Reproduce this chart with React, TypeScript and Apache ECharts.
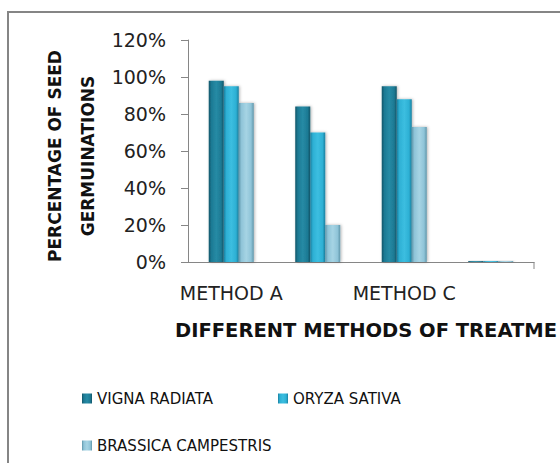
import React, { useEffect, useRef } from "react";
import * as echarts from "echarts";

const categories = ["METHOD A", "METHOD B", "METHOD C", "METHOD D"];
const seriesNames = ["VIGNA RADIATA", "ORYZA SATIVA", "BRASSICA CAMPESTRIS"];
const vignaRadiata = [98, 84, 95, 0.5];
const oryzaSativa = [95, 70, 88, 0.5];
const brassicaCampestris = [86, 20, 73, 0.5];
const yMin = 0;
const yMax = 120;
const yStep = 20;
const yTitle = "PERCENTAGE OF SEED\nGERMUINATIONS";
const xTitle = "DIFFERENT METHODS OF TREATME";

const W = 560;
const H = 463;
const GRID = { left: 188, top: 40, right: 26, bottom: 201 };
const FONT = "DejaVu Sans";

function grad(edge: string, mid: string, center: string) {
  return new echarts.graphic.LinearGradient(0, 0, 1, 0, [
    { offset: 0, color: edge },
    { offset: 0.18, color: mid },
    { offset: 0.5, color: center },
    { offset: 0.82, color: mid },
    { offset: 1, color: edge },
  ]);
}

export default function App() {
  const ref = useRef<HTMLDivElement>(null);
  useEffect(() => {
    if (!ref.current) return;
    const chart = echarts.init(ref.current, undefined, { renderer: "svg", width: W, height: H });
    const colors = [
      grad("#125568", "#1d7a94", "#268ba5"),
      grad("#1a7f9f", "#2db0d4", "#3cbee0"),
      grad("#5f96aa", "#8fc4d8", "#a6d4e4"),
    ];
    const data = [vignaRadiata, oryzaSativa, brassicaCampestris];
    const legendPos = [
      { left: 77, top: 386 },
      { left: 273, top: 386 },
      { left: 77, top: 433 },
    ];
    chart.setOption({
      animation: false,
      backgroundColor: "#ffffff",
      grid: { ...GRID, containLabel: false },
      legend: seriesNames.map((n, i) => ({
        data: [n],
        left: legendPos[i].left,
        top: legendPos[i].top,
        icon: "rect",
        itemWidth: 10,
        itemHeight: 10,
        itemGap: 5,
        textStyle: { fontFamily: FONT, fontSize: 15, color: "#111" },
      })),
      xAxis: {
        type: "category",
        data: categories,
        axisLine: { lineStyle: { color: "#868686", width: 1 } },
        axisTick: { alignWithLabel: true, interval: 0, length: 7, lineStyle: { color: "#868686" } },
        axisLabel: { interval: 1, margin: 21, fontFamily: FONT, fontSize: 19, color: "#222" },
      },
      yAxis: {
        type: "value",
        min: yMin,
        max: yMax,
        interval: yStep,
        splitLine: { show: false },
        axisLine: { show: true, lineStyle: { color: "#868686", width: 1 } },
        axisTick: { show: true, length: 7, lineStyle: { color: "#868686" } },
        axisLabel: { formatter: "{value}%", margin: 22, fontFamily: FONT, fontSize: 19, color: "#222" },
      },
      series: seriesNames.map((n, i) => ({
        name: n,
        type: "bar",
        data: data[i],
        barWidth: 15,
        barGap: "0%",
        itemStyle: {
          color: colors[i],
          shadowBlur: 3,
          shadowColor: "rgba(0,0,0,0.3)",
          shadowOffsetX: 1,
          shadowOffsetY: 0,
        },
      })),
      graphic: [
        {
          type: "rect",
          shape: { x: 8, y: 12, width: 800, height: 800 },
          style: { fill: "none", stroke: "#858585", lineWidth: 2 },
          silent: true,
        },
        {
          type: "line",
          shape: { x1: W - GRID.right, y1: H - GRID.bottom, x2: W - GRID.right, y2: H - GRID.bottom + 7 },
          style: { stroke: "#868686", lineWidth: 1 },
          silent: true,
        },
        {
          type: "text",
          x: 71,
          y: 156,
          rotation: Math.PI / 2,
          style: {
            text: yTitle,
            align: "center",
            verticalAlign: "middle",
            fontFamily: FONT,
            fontSize: 17,
            fontWeight: "bold",
            lineHeight: 33,
            fill: "#111",
          },
        },
        {
          type: "text",
          x: 175,
          y: 330,
          style: {
            text: xTitle,
            align: "left",
            verticalAlign: "middle",
            fontFamily: FONT,
            fontSize: 19.5,
            fontWeight: "bold",
            fill: "#111",
          },
        },
      ],
    });
    return () => chart.dispose();
  }, []);
  return (
    <div
      ref={ref}
      style={{ position: "fixed", left: 0, top: 0, width: W, height: H, overflow: "hidden", background: "#fff" }}
    />
  );
}
